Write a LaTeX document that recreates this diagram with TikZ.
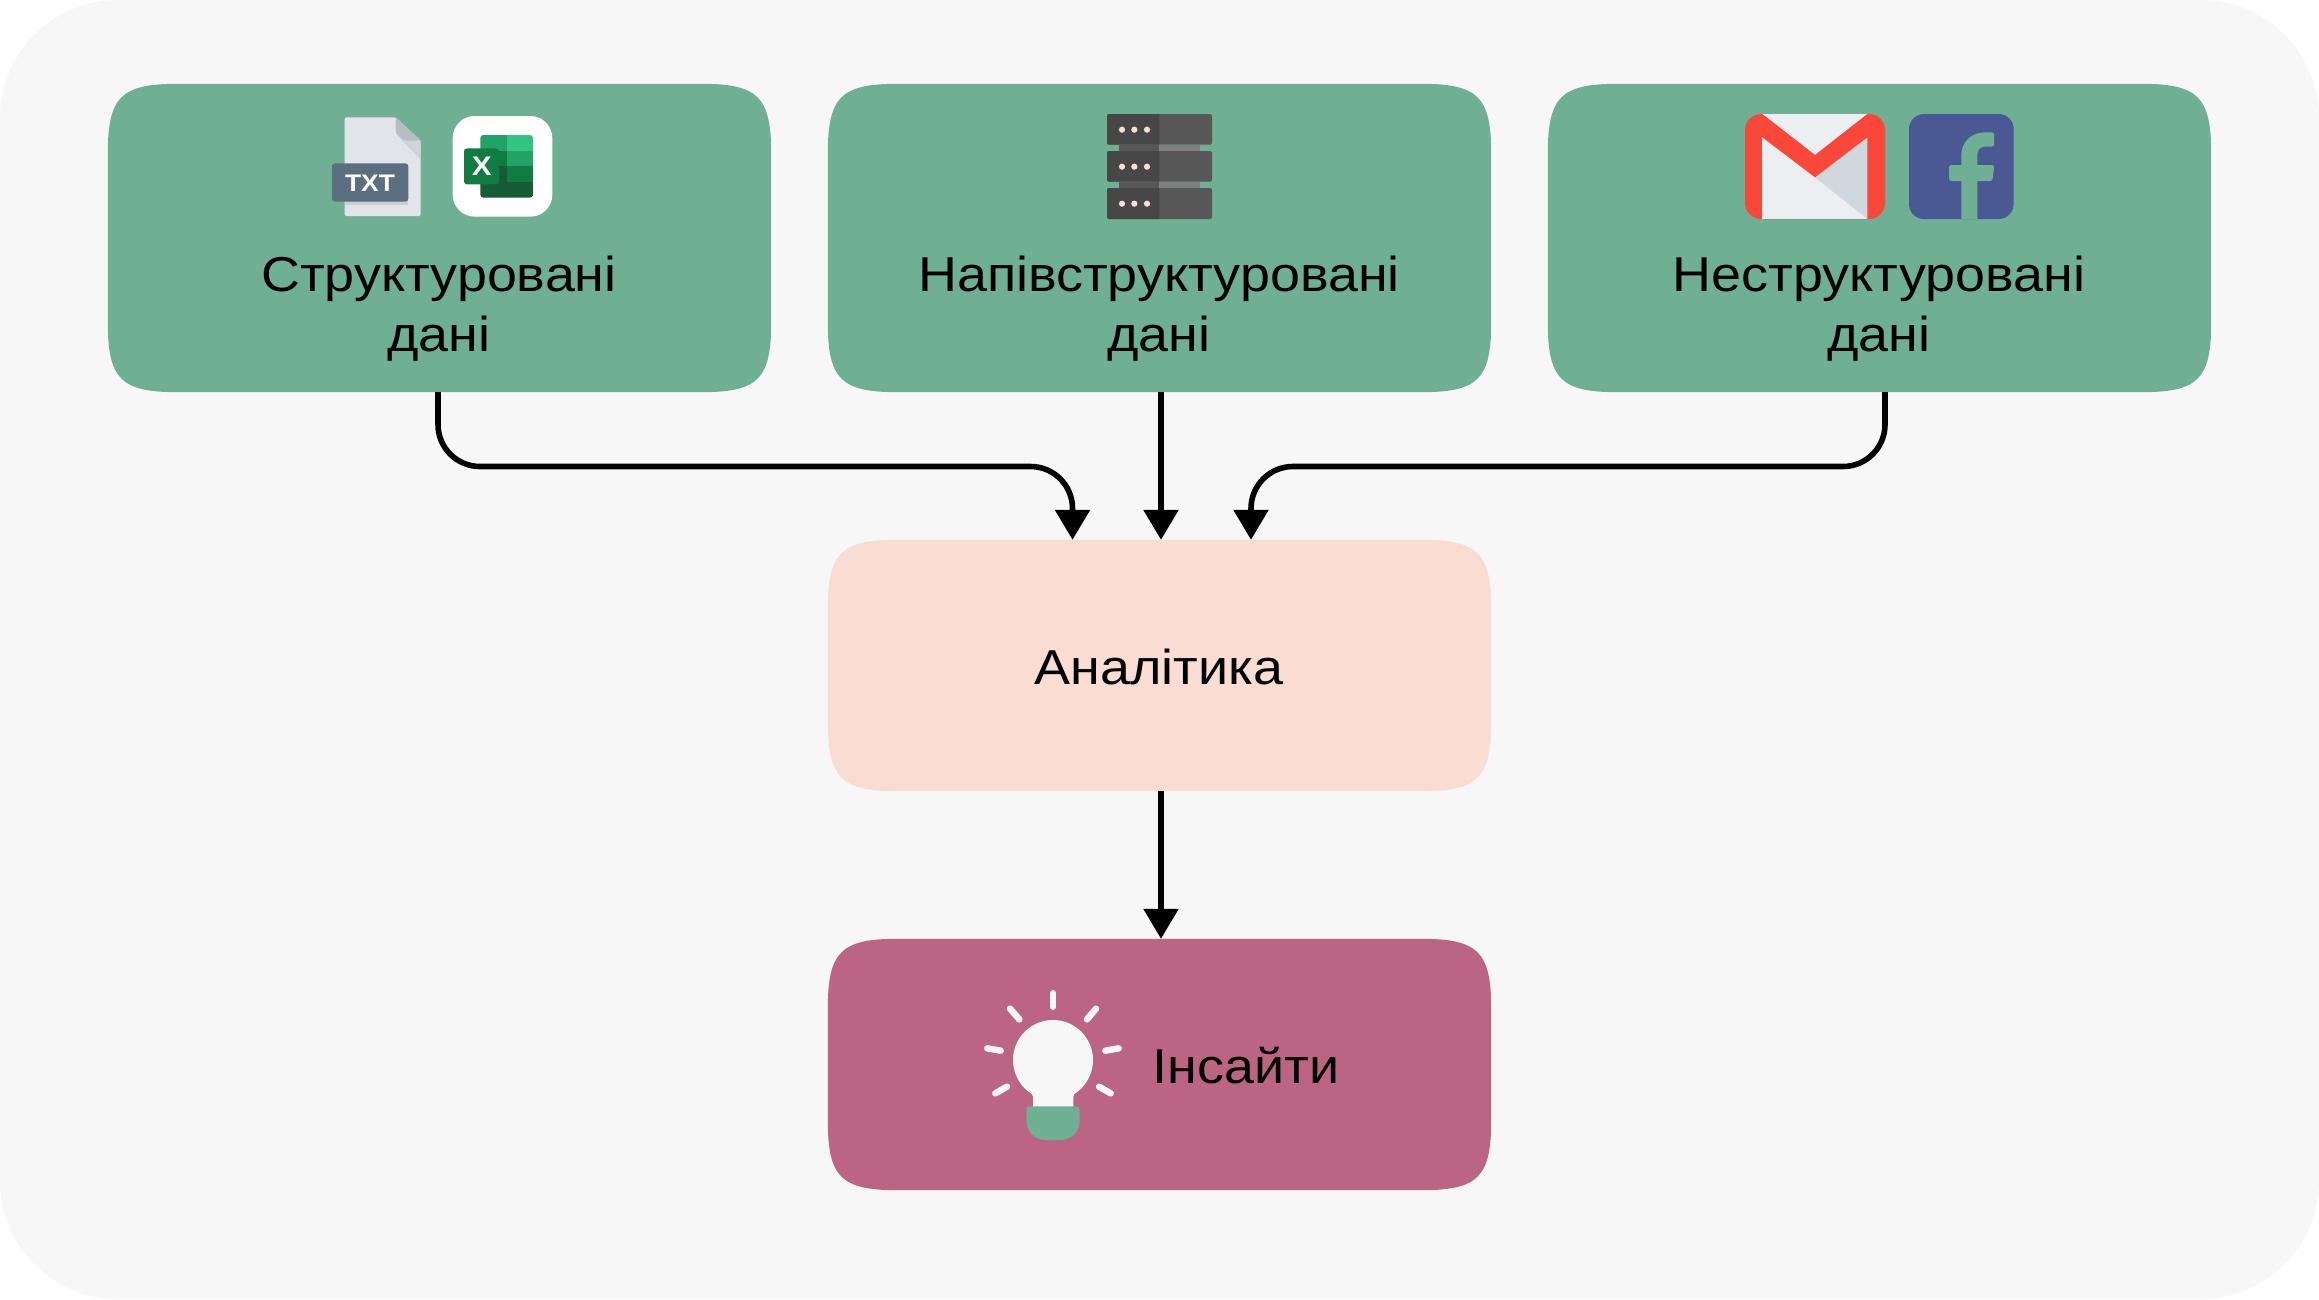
\documentclass[tikz,border=0pt]{standalone}
\usepackage{fontspec}
\setmainfont[FakeStretch=1.1]{Liberation Sans}
\usetikzlibrary{arrows.meta}
\definecolor{bgc}{HTML}{F7F7F7}
\definecolor{greenc}{HTML}{6FAF93}
\definecolor{peachc}{HTML}{F9DDD2}
\definecolor{rosec}{HTML}{BC6483}
\definecolor{xa}{HTML}{33C481}
\definecolor{xb}{HTML}{21A366}
\definecolor{xc}{HTML}{107C41}
\definecolor{xd}{HTML}{185C37}
\newcommand{\squirc}[2]{%
 \fill[#2] ([yshift=-70pt]#1.north west) .. controls ([yshift=-13pt]#1.north west) and ([xshift=13pt]#1.north west) .. ([xshift=70pt]#1.north west)
 -- ([xshift=-70pt]#1.north east) .. controls ([xshift=-13pt]#1.north east) and ([yshift=-13pt]#1.north east) .. ([yshift=-70pt]#1.north east)
 -- ([yshift=70pt]#1.south east) .. controls ([yshift=13pt]#1.south east) and ([xshift=-13pt]#1.south east) .. ([xshift=-70pt]#1.south east)
 -- ([xshift=70pt]#1.south west) .. controls ([xshift=13pt]#1.south west) and ([yshift=13pt]#1.south west) .. ([yshift=70pt]#1.south west) -- cycle;}
\tikzset{x=1pt,y=-1pt,
 card/.style={draw=none,minimum width=663pt,inner sep=0pt},
 lbl/.style={font=\fontsize{49}{60}\selectfont,align=center,inner sep=0pt,text=black},
 flow/.style={draw=black,line width=5.6pt,rounded corners=42pt,-{Triangle[length=30pt,width=34pt]}},
 icon/.style={shift={(#1)},x=0.33333pt,y=-0.33333pt},
 ray/.style={draw=bgc,line width=6.5pt,line cap=round}}
\begin{document}
\begin{tikzpicture}
\useasboundingbox (0,0) rectangle (2319,1299);
\fill[bgc,rounded corners=118pt] (0,0) rectangle (2319,1299);
\node[card,minimum height=308pt] (a) at (439.5,238) {};
\node[card,minimum height=308pt] (b) at (1159.5,238) {};
\node[card,minimum height=308pt] (c) at (1879.5,238) {};
\node[card,minimum height=251pt] (d) at (1159.5,665.5) {};
\node[card,minimum height=251pt] (e) at (1159.5,1064.5) {};
\squirc{a}{greenc}\squirc{b}{greenc}\squirc{c}{greenc}\squirc{d}{peachc}\squirc{e}{rosec}
\node[lbl] (ta) at (439,308.5) {Структуровані\\дані};
\node[lbl] (tb) at (1159,308.5) {Напівструктуровані\\дані};
\node[lbl] (tc) at (1879,308.5) {Неструктуровані\\дані};
\node[lbl] (td) at (1159,667) {Аналітика};
\node[lbl] (te) at (1246,1066) {Інсайти};
\coordinate (k) at (0,466.5);
\coordinate (d1) at ([xshift=-87pt]d.north);
\coordinate (d2) at ([xshift=1.5pt]d.north);
\coordinate (d3) at ([xshift=91.5pt]d.north);
\draw[flow] ([xshift=-1.5pt]a.south) |- (d1 |- k) -- (d1);
\draw[flow] (b.south -| d2) -- (d2);
\draw[flow] ([xshift=5.5pt]c.south) |- (d3 |- k) -- (d3);
\draw[flow,rounded corners=0pt] (d2 |- d.south) -- (d2 |- e.north);
% TXT file icon
\begin{scope}[icon={300,90}]
 \fill[draw=none,color={rgb,255:red,225;green,229;blue,233},rounded corners=2pt] (134,82) -- (287,82) -- (362,152) -- (362,378) -- (134,378) -- cycle;
 \fill[color={rgb,255:red,206;green,212;blue,218}] (300,145) -- (362,152) -- (362,208) -- cycle;
 \fill[color={rgb,255:red,181;green,190;blue,196},rounded corners=3pt] (287,82) -- (362,152) -- (312,152) -- (287,130) -- cycle;
 \fill[color={rgb,255:red,201;green,208;blue,215}] (134,240) rectangle (325,345);
 \fill[color={rgb,255:red,92;green,111;blue,128},rounded corners=3pt] (96,220) rectangle (325,335);
 \node[font=\bfseries\fontsize{24}{24}\selectfont,text=white,inner sep=0pt] (txt) at (210,279) {TXT};
\end{scope}
% Excel icon
\begin{scope}[icon={300,90}]
 \fill[white,rounded corners=22pt] (458,78) rectangle (757,380);
 \begin{scope}
 \clip[rounded corners=3pt] (541,135) rectangle (700,323);
 \fill[xb] (541,135) rectangle (622,182);
 \fill[xa] (622,135) rectangle (700,182);
 \fill[xc] (541,182) rectangle (622,229);
 \fill[xb] (622,182) rectangle (700,229);
 \fill[xd] (541,229) rectangle (622,276);
 \fill[xc] (622,229) rectangle (700,276);
 \fill[xd] (541,276) rectangle (700,323);
 \end{scope}
 \fill[xc,rounded corners=3pt] (492,175) rectangle (597,283);
 \node[font=\bfseries\fontsize{27}{27}\selectfont,text=white,inner sep=0pt] (xl) at (545,229) {X};
\end{scope}
% Server icon
\begin{scope}[icon={1080,100}]
 \foreach \t/\b in {42/134,153/245,264/357}{
  \fill[color={rgb,255:red,87;green,87;blue,87},rounded corners=2pt] (81,\t) rectangle (396,\b);
  \begin{scope}
  \clip (81,\t) rectangle (238,\b);
  \fill[color={rgb,255:red,71;green,71;blue,71},rounded corners=2pt] (81,\t) rectangle (396,\b);
  \end{scope}
 }
 \foreach \t/\b in {134/153,245/264}{
  \fill[color={rgb,255:red,87;green,87;blue,87}] (118,\t) rectangle (238,\b);
  \fill[color={rgb,255:red,127;green,127;blue,127}] (238,\t) rectangle (360,\b);
 }
 \foreach \y in {89,200,311}\foreach \x in {126,163,201}
  \fill[peachc] (\x,\y) circle[radius=3.1pt];
\end{scope}
% Gmail icon
\begin{scope}[icon={1730,100}]
 \fill[color={rgb,255:red,249;green,71;blue,58},rounded corners=16pt] (45,42) rectangle (465,357);
 \fill[color={rgb,255:red,236;green,239;blue,241}] (97,42) rectangle (412,357);
 \fill[color={rgb,255:red,207;green,216;blue,220}] (255,232) -- (412,112) -- (412,357) -- cycle;
 \fill[color={rgb,255:red,249;green,71;blue,58}] (97,42) -- (255,165) -- (412,42) -- (420,42) -- (420,112) -- (412,112) -- (255,232) -- (97,112) -- (90,112) -- (90,42) -- cycle;
\end{scope}
% Facebook icon
\begin{scope}[icon={1730,100}]
 \fill[color={rgb,255:red,74;green,89;blue,147},rounded corners=15pt] (537,42) rectangle (851,357);
 \fill[greenc] (694,357) -- (694,243) -- (665,243) .. controls (660,243) and (657,240) .. (657,235) -- (657,203) .. controls (657,198) and (660,195) .. (665,195) -- (694,195) -- (694,165) .. controls (694,125) and (725,97) .. (765,97) -- (785,97) .. controls (790,97) and (792,100) .. (792,104) -- (792,133) .. controls (792,138) and (790,140) .. (785,140) -- (765,140) .. controls (750,140) and (742,150) .. (742,165) -- (742,195) -- (785,195) .. controls (790,195) and (792,198) .. (792,203) -- (788,235) .. controls (787,240) and (785,243) .. (780,243) -- (742,243) -- (742,357) -- cycle;
\end{scope}
% Bulb icon
\begin{scope}[icon={960,970}]
 \fill[bgc] (279,270) circle[radius=40pt];
 \fill[bgc] (190,350) .. controls (200,362) and (219,368) .. (219,380) -- (219,415) -- (340,415) -- (340,380) .. controls (340,368) and (358,362) .. (368,350) -- cycle;
 \fill[greenc] (199,420) .. controls (199,412) and (203,409) .. (211,409) -- (347,409) .. controls (355,409) and (359,412) .. (359,420) -- (359,450) .. controls (359,485) and (335,510) .. (300,510) -- (258,510) .. controls (223,510) and (199,485) .. (199,450) -- cycle;
 \draw[ray] (279,70) -- (279,110);
 \draw[ray] (150,116) -- (178,148);
 \draw[ray] (408,116) -- (381,148);
 \draw[ray] (82,235) -- (122,242);
 \draw[ray] (476,235) -- (436,242);
 \draw[ray] (106,370) -- (141,350);
 \draw[ray] (452,370) -- (417,350);
\end{scope}
\end{tikzpicture}
\end{document}
